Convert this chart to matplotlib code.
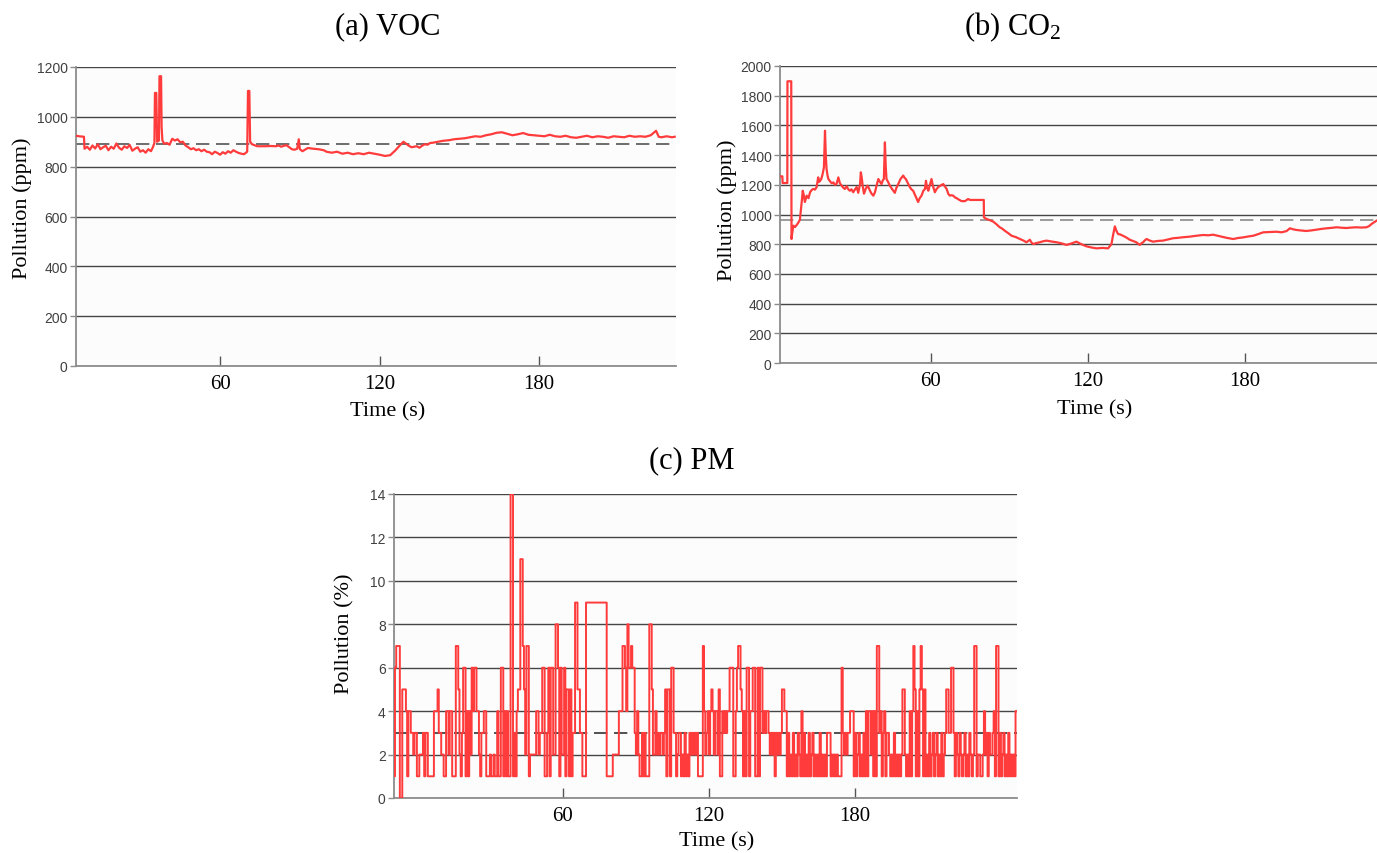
import numpy as np
import matplotlib
matplotlib.use("Agg")
import matplotlib.pyplot as plt

plt.rcParams["font.family"] = ["Liberation Serif", "DejaVu Serif"]
plt.rcParams["mathtext.fontset"] = "custom"
plt.rcParams["mathtext.rm"] = "Liberation Serif"
plt.rcParams["mathtext.default"] = "regular"

# ── Data ─────────────────────────────────────────────────────────────────────
VOC_T = [5.8, 7, 8.8, 9, 10, 11, 12, 13, 14, 15, 16, 17, 18, 19, 20, 21, 22, 23,
         24, 25, 26, 27, 28, 29, 30, 31, 32, 33, 34, 34.8, 35.3, 35.5, 36.0, 36.3,
         37.0, 37.2, 37.8, 38.0, 38.3, 39, 40, 41, 42, 43, 44, 45, 46, 47, 48, 49,
         50, 51, 52, 53, 54, 55, 56, 57, 58, 59, 60, 61, 62, 63, 64, 65, 66, 67,
         68, 69, 70.2, 70.5, 71.0, 71.3, 72, 73, 74, 75, 77, 79, 81, 82, 83, 84,
         85, 86, 87, 88, 89, 89.6, 90, 91, 93, 95, 97, 99, 100, 102, 104, 106,
         108, 110, 112, 114, 116, 118, 120, 122, 124, 125, 126, 127, 128, 129,
         130, 131, 132, 133, 134, 135, 136, 137, 138, 139, 140, 142, 144, 146,
         148, 150, 152, 154, 156, 158, 160, 162, 164, 166, 168, 170, 172, 174,
         176, 178, 180, 182, 184, 186, 188, 190, 192, 194, 196, 198, 200, 202,
         204, 206, 208, 210, 212, 214, 216, 218, 220, 222, 224, 225, 226, 228,
         230, 231]
VOC_V = [924, 922, 920, 872, 880, 868, 885, 873, 890, 870, 878, 884, 866, 880,
         872, 893, 876, 868, 882, 875, 887, 864, 872, 878, 860, 866, 856, 870,
         862, 880, 895, 1096, 1096, 900, 905, 1163, 1163, 960, 905, 892, 895,
         888, 912, 905, 910, 898, 900, 885, 878, 870, 874, 866, 870, 862, 868,
         860, 858, 850, 860, 855, 848, 858, 852, 862, 856, 866, 860, 855, 852,
         850, 860, 1104, 1104, 900, 890, 886, 882, 882, 882, 883, 882, 885, 880,
         884, 886, 878, 870, 868, 872, 910, 870, 862, 875, 872, 870, 866, 860,
         856, 860, 852, 856, 850, 854, 850, 856, 852, 848, 843, 846, 856, 866,
         878, 890, 900, 892, 884, 878, 880, 882, 876, 884, 890, 888, 895, 896,
         900, 904, 906, 910, 912, 914, 918, 922, 920, 926, 930, 936, 938, 932,
         926, 930, 935, 928, 926, 924, 922, 928, 922, 920, 924, 918, 916, 920,
         924, 918, 922, 920, 916, 922, 920, 918, 924, 920, 922, 920, 926, 944,
         920, 918, 922, 918, 920]
VOC_MEAN = 890

CO2_T = [2.3, 3.2, 3.3, 5.1, 5.15, 6.6, 6.7, 7.0, 7.4, 8.0, 8.7, 9.3, 9.9, 10.6,
         11.0, 11.4, 11.8, 12.5, 13.2, 13.8, 14.4, 15.0, 15.7, 16.3, 16.9, 17.3,
         17.6, 18.1, 18.6, 19.1, 19.5, 19.8, 20.1, 20.5, 20.8, 21.5, 22.1, 22.7,
         23.3, 23.9, 24.6, 25.2, 25.9, 26.5, 27.1, 27.8, 28.4, 29.0, 29.6, 30.3,
         31.0, 31.6, 32.2, 32.9, 33.2, 33.6, 33.9, 34.4, 35.0, 35.7, 36.2, 36.7,
         37.3, 38.0, 38.6, 39.2, 39.9, 40.5, 41.1, 41.6, 42.0, 42.4, 42.7, 43.0,
         43.6, 44.3, 45.2, 46.2, 46.8, 47.5, 48.4, 49.4, 50.0, 50.4, 51.2, 51.9,
         52.5, 53.2, 54.2, 55.1, 55.7, 56.4, 57.1, 57.7, 58.1, 58.5, 59.0, 59.6,
         60.2, 60.8, 61.5, 62.1, 62.8, 63.7, 64.7, 65.3, 66.0, 66.6, 67.2, 67.8,
         68.5, 69.2, 69.8, 70.7, 71.7, 73.0, 74.2, 75.0, 77.0, 80.2, 80.25, 81.2,
         82.5, 83.8, 85.0, 86.3, 87.2, 88.2, 89.5, 90.8, 92.4, 94.0, 95.3, 96.5,
         97.2, 97.8, 98.4, 99.1, 100.3, 101.6, 102.9, 104.2, 106.1, 108.0, 109.9,
         111.8, 113.7, 115.6, 117.5, 119.4, 121.3, 123.3, 125.5, 127.7, 129.0,
         129.6, 130.3, 130.9, 131.5, 132.4, 133.4, 134.7, 136.0, 137.2, 138.5,
         139.8, 140.4, 141.1, 141.7, 142.4, 143.6, 144.9, 146.8, 148.7, 150.6,
         152.5, 153.9, 156.5, 159.0, 161.5, 164.1, 166.0, 167.9, 170.5, 173.0,
         175.5, 177.5, 179.4, 181.3, 183.2, 185.1, 187.0, 189.5, 192.1, 194.0,
         195.9, 197.2, 198.5, 199.7, 201.6, 203.5, 205.5, 207.4, 209.3, 211.2,
         213.1, 215.0, 216.9, 218.8, 220.7, 222.6, 224.5, 226.5, 227.5, 228.4,
         229.4, 230.3]
CO2_V = [1257, 1257, 1212, 1212, 1897, 1897, 835, 880, 925, 915, 930, 945, 965,
         1084, 1160, 1130, 1084, 1127, 1110, 1150, 1165, 1172, 1168, 1185, 1250,
         1220, 1227, 1240, 1273, 1318, 1564, 1400, 1306, 1260, 1239, 1222, 1210,
         1216, 1200, 1205, 1250, 1210, 1194, 1180, 1172, 1190, 1170, 1160, 1170,
         1150, 1170, 1185, 1146, 1205, 1284, 1240, 1194, 1140, 1170, 1194, 1180,
         1160, 1140, 1127, 1150, 1194, 1239, 1220, 1205, 1230, 1239, 1486, 1330,
         1239, 1220, 1194, 1170, 1146, 1180, 1205, 1240, 1262, 1245, 1239, 1210,
         1185, 1170, 1160, 1120, 1084, 1110, 1127, 1160, 1172, 1227, 1180, 1160,
         1200, 1239, 1190, 1150, 1170, 1185, 1195, 1205, 1190, 1172, 1140, 1127,
         1130, 1127, 1115, 1110, 1100, 1090, 1090, 1104, 1098, 1098, 1098, 981,
         970, 962, 952, 935, 914, 905, 891, 875, 857, 848, 835, 825, 813, 822,
         830, 812, 801, 808, 813, 820, 824, 818, 813, 806, 795, 805, 817, 800,
         786, 778, 772, 775, 772, 801, 860, 920, 890, 869, 865, 857, 845, 830,
         822, 813, 795, 805, 813, 825, 835, 825, 817, 822, 824, 832, 840, 842,
         847, 851, 857, 862, 860, 864, 853, 843, 835, 842, 846, 852, 857, 868,
         880, 882, 884, 880, 888, 907, 900, 896, 892, 889, 893, 898, 903, 907,
         910, 914, 911, 909, 912, 914, 912, 914, 922, 936, 948, 958]
CO2_MEAN = 960

# PM sampled every 0.5 s starting at t = -9.5 s
PM_T0 = -9.5
PM_DT = 0.5
PM_V = [1, 6, 7, 7, 7, 0, 0, 5, 5, 5, 4, 1, 4, 4, 3, 3, 2, 3, 3, 1,
        1, 2, 2, 2, 3, 1, 3, 3, 1, 1, 1, 1, 1, 4, 4, 4, 5, 3, 3, 2,
        2, 1, 1, 4, 4, 2, 4, 4, 1, 1, 1, 7, 7, 5, 2, 1, 3, 6, 6, 1,
        4, 1, 4, 2, 6, 4, 6, 6, 4, 4, 2, 1, 3, 3, 4, 4, 1, 1, 1, 2,
        1, 1, 2, 1, 1, 4, 1, 1, 6, 6, 1, 4, 1, 4, 1, 1, 14, 14, 1, 3,
        1, 4, 5, 5, 11, 11, 7, 5, 2, 7, 7, 1, 2, 2, 2, 2, 2, 4, 4, 2,
        3, 3, 6, 6, 1, 1, 3, 6, 1, 6, 6, 2, 2, 8, 8, 6, 1, 6, 2, 2,
        6, 1, 5, 5, 1, 5, 1, 3, 3, 9, 9, 5, 5, 3, 3, 1, 1, 1, 9, 9,
        9, 9, 9, 9, 9, 9, 9, 9, 9, 9, 9, 9, 9, 9, 9, 1, 1, 1, 1, 1,
        2, 2, 2, 2, 2, 4, 4, 4, 7, 7, 6, 4, 8, 6, 6, 7, 6, 6, 3, 2,
        4, 2, 1, 1, 3, 1, 3, 1, 1, 1, 8, 8, 5, 2, 2, 4, 2, 3, 2, 3,
        3, 2, 3, 5, 1, 5, 5, 1, 6, 6, 3, 3, 1, 2, 3, 3, 1, 2, 1, 3,
        1, 2, 1, 3, 2, 3, 2, 3, 2, 3, 1, 1, 1, 1, 7, 4, 2, 3, 4, 2,
        4, 5, 4, 2, 4, 4, 2, 5, 1, 1, 4, 3, 4, 3, 4, 4, 6, 6, 6, 1,
        1, 4, 6, 7, 7, 5, 4, 1, 4, 1, 6, 6, 1, 4, 4, 6, 6, 1, 1, 6,
        1, 6, 6, 3, 4, 3, 4, 4, 3, 2, 3, 2, 3, 1, 3, 2, 3, 2, 3, 5,
        5, 4, 4, 1, 3, 1, 2, 1, 3, 1, 2, 1, 3, 2, 1, 4, 1, 3, 1, 2,
        1, 3, 1, 2, 3, 1, 2, 1, 2, 1, 3, 1, 2, 1, 2, 1, 3, 3, 3, 1,
        2, 1, 2, 1, 2, 1, 1, 1, 6, 3, 2, 3, 2, 3, 3, 4, 4, 4, 1, 3,
        1, 2, 3, 1, 2, 1, 3, 1, 4, 1, 4, 4, 2, 4, 1, 4, 1, 7, 7, 3,
        4, 1, 3, 4, 1, 3, 3, 2, 1, 2, 1, 3, 1, 2, 1, 2, 1, 2, 5, 5,
        2, 1, 2, 1, 4, 1, 4, 7, 5, 1, 4, 1, 5, 7, 5, 1, 5, 1, 2, 1,
        3, 1, 2, 3, 1, 2, 3, 1, 2, 1, 3, 1, 2, 3, 5, 5, 3, 3, 6, 6,
        3, 1, 3, 2, 1, 3, 2, 1, 2, 3, 1, 2, 1, 3, 2, 1, 2, 7, 7, 1,
        2, 2, 1, 1, 2, 4, 2, 3, 1, 3, 2, 2, 3, 4, 1, 7, 7, 1, 3, 1,
        2, 3, 1, 2, 1, 3, 1, 2, 1, 2, 1, 4, 4]
PM_MEAN = 3

TITLES = ["(a) VOC", "(b) CO$_2$", "(c) PM"]
YLABELS = ["Pollution (ppm)", "Pollution (ppm)", "Pollution (%)"]
XTICKS = [60, 120, 180]

# ── Styling ──────────────────────────────────────────────────────────────────
RED = "#FF3B3B"
GRID = "#454545"
SPINE = "#8C8C8C"
W, H = 1377, 854


def px_axes(fig, left, top, right, bottom):
    return fig.add_axes([left / W, 1 - bottom / H, (right - left) / W, (bottom - top) / H])


def ftext(fig, x, y, s, **kw):
    # place text by pixel position (origin top-left)
    return fig.text(x / W, 1 - y / H, s, ha="center", va="center", **kw)


def style(ax, ylim, ystep, xlim, mean, mean_color):
    ax.set_facecolor("#FCFCFC")
    ax.set_xlim(*xlim)
    ax.set_ylim(*ylim)
    ax.set_yticks(np.arange(ylim[0], ylim[1] + ystep / 2, ystep))
    ax.set_xticks(XTICKS)
    ax.yaxis.grid(True, color=GRID, lw=1.0)
    ax.set_axisbelow(True)
    for s in ["top", "right"]:
        ax.spines[s].set_visible(False)
    for s in ["left", "bottom"]:
        ax.spines[s].set_color(SPINE)
        ax.spines[s].set_linewidth(1.3)
    ax.tick_params(axis="x", direction="in", length=7, width=1, color="#555555",
                   labelsize=15, pad=6, labelcolor="black")
    ax.tick_params(axis="y", direction="out", length=4, width=1, color=SPINE,
                   labelsize=10, labelcolor="#404040", pad=2)
    for lab in ax.get_yticklabels():
        lab.set_family("Liberation Sans")
    ax.axhline(mean, color=mean_color, lw=1.2, dashes=(8, 4), zorder=1.5)


fig = plt.figure(figsize=(W / 100, H / 100), dpi=100, facecolor="white")

ax1 = px_axes(fig, 76, 68, 676, 367)
ax1.plot(VOC_T, VOC_V, color=RED, lw=1.6, zorder=3)
style(ax1, (0, 1200), 200, (5.8, 231.5), VOC_MEAN, "#555555")

ax2 = px_axes(fig, 780, 67, 1377, 364)
ax2.plot(CO2_T, CO2_V, color=RED, lw=1.6, zorder=3)
style(ax2, (0, 2000), 200, (2.3, 230.5), CO2_MEAN, "#8A8A8A")

ax3 = px_axes(fig, 394, 495, 1017, 799)
pm_t = PM_T0 + PM_DT * np.arange(len(PM_V))
ax3.plot(pm_t, PM_V, color=RED, lw=1.4, drawstyle="steps-post", zorder=3)
style(ax3, (0, 14), 2, (-9.4, 246.6), PM_MEAN, "#333333")

# titles, axis labels at their measured pixel positions
ftext(fig, 388, 27, TITLES[0], fontsize=22)
ftext(fig, 1013, 27, TITLES[1], fontsize=22)
ftext(fig, 692, 461, TITLES[2], fontsize=22)

ftext(fig, 388, 412, "Time (s)", fontsize=16)
ftext(fig, 1095, 410, "Time (s)", fontsize=16)
ftext(fig, 717, 842, "Time (s)", fontsize=16)

ftext(fig, 22, 208, YLABELS[0], fontsize=16, rotation=90)
ftext(fig, 727, 210, YLABELS[1], fontsize=16, rotation=90)
ftext(fig, 345, 634, YLABELS[2], fontsize=16, rotation=90)

fig.savefig("out.png", dpi=100, facecolor="white")
